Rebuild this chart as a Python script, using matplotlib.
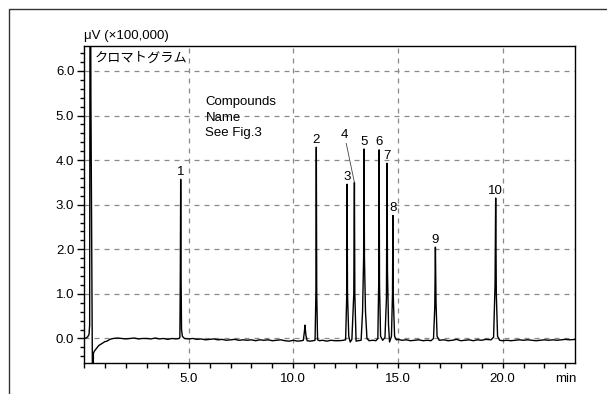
import matplotlib
matplotlib.use("Agg")
import matplotlib.pyplot as plt
from matplotlib.lines import Line2D
from matplotlib.ticker import MultipleLocator, FixedLocator

plt.rcParams['font.family'] = ['Liberation Sans', 'Noto Sans CJK JP', 'DejaVu Sans']
plt.rcParams['font.size'] = 9.5

# chromatogram trace (min, x100,000 uV)
solvent_t = [0.00, 0.10, 0.18, 0.24, 0.27, 0.29, 0.31, 0.33, 0.37, 0.41, 0.43, 0.45,
             0.50, 0.60, 0.70, 0.80, 0.90, 1.00, 1.10, 1.20, 1.30, 1.40]
solvent_y = [0.00, 0.01, 0.04, 0.09, 0.30, 9.00, 9.00, 5.40, 2.00, -1.50, -1.50, -0.33,
             -0.28, -0.22, -0.16, -0.13, -0.10, -0.07, -0.06, -0.03, -0.01, 0.00]

part1_t = [1.6, 1.8, 2.0, 2.2, 2.4, 2.6, 2.8, 3.0, 3.2, 3.4, 3.6, 3.8, 4.0, 4.2, 4.4, 4.54,
           4.58, 4.60, 4.62, 4.64, 4.66, 4.70, 4.80,
           5.0, 5.2, 5.4, 5.6, 5.8, 6.0, 6.2, 6.4, 6.6, 6.8, 7.0, 7.2, 7.4, 7.6, 7.8,
           8.0, 8.2, 8.4, 8.6, 8.8, 9.0, 9.2, 9.4, 9.6, 9.8, 10.0, 10.2, 10.4]
part1_y = [0.01, 0.00, -0.01, 0.00, 0.01, -0.01, 0.00, 0.00, -0.01, 0.01, -0.01, 0.00,
           -0.02, 0.00, -0.01, 0.00,
           0.02, 1.20, 3.57, 1.30, 0.20, 0.05, 0.00,
           -0.01, 0.00, -0.02, -0.01, -0.03, -0.02, -0.01, -0.03, -0.02, -0.04, -0.03,
           -0.02, -0.04, -0.03, -0.04, -0.03, -0.05, -0.03, -0.04, -0.03, -0.05, -0.04,
           -0.03, -0.05, -0.06, -0.04, -0.06, -0.05]

part2_t = [10.48, 10.53, 10.56, 10.60, 10.66, 10.8, 10.95,
           11.04, 11.08, 11.10, 11.12, 11.16, 11.25,
           11.4, 11.6, 11.8, 12.0, 12.2, 12.4,
           12.50, 12.55, 12.57, 12.59, 12.65, 12.72, 12.80, 12.89, 12.92, 12.94, 13.00, 13.1,
           13.24, 13.31, 13.36, 13.38, 13.40, 13.45, 13.52, 13.62, 13.8, 13.95,
           14.04, 14.08, 14.10, 14.12, 14.17, 14.27,
           14.38, 14.45, 14.48, 14.50, 14.55, 14.60,
           14.69, 14.74, 14.76, 14.78, 14.84, 14.92]
part2_y = [-0.04, 0.15, 0.30, 0.08, -0.05, -0.06, -0.05,
           -0.04, 1.00, 4.29, 1.00, -0.03, -0.05,
           -0.04, -0.06, -0.04, -0.05, -0.05, -0.04,
           -0.03, 0.90, 3.46, 1.00, 0.05, -0.08, -0.02, 1.00, 3.50, 1.00, -0.06, -0.05,
           -0.04, 0.60, 1.80, 4.25, 1.80, 0.60, 0.00, -0.05, -0.04, -0.05,
           0.00, 1.20, 4.23, 1.20, 0.05, -0.04,
           0.02, 0.90, 3.93, 1.50, 0.30, -0.08,
           0.05, 1.00, 2.76, 0.90, 0.05, -0.03]

part3_t = [15.0, 15.2, 15.4, 15.6, 15.8, 16.0, 16.2, 16.4, 16.58,
           16.70, 16.76, 16.79, 16.82, 16.87, 16.97,
           17.2, 17.4, 17.6, 17.8, 18.0, 18.2, 18.4, 18.6, 18.8, 19.0, 19.2, 19.45,
           19.57, 19.64, 19.67, 19.70, 19.76, 19.86,
           20.0, 20.2, 20.4, 20.6, 20.8, 21.0, 21.2, 21.4, 21.6, 21.8, 22.0, 22.2,
           22.4, 22.6, 22.8, 23.0, 23.2, 23.5]
part3_y = [-0.02, -0.04, -0.03, -0.05, -0.04, -0.03, -0.05, -0.04, -0.05,
           0.00, 0.70, 2.05, 0.80, 0.05, -0.04,
           -0.03, -0.05, -0.04, -0.02, -0.05, -0.04, -0.03, -0.05, -0.03, -0.04, -0.02, -0.03,
           0.03, 1.20, 3.15, 1.00, 0.05, -0.04,
           -0.05, -0.04, -0.05, -0.04, -0.03, -0.04, -0.03, -0.04, -0.05, -0.04, -0.03, -0.04,
           -0.03, -0.04, -0.03, -0.02, -0.03, -0.02]

# peak numbers
peak_label = ['1', '2', '3', '5', '6', '7', '8', '9', '10']
peak_rt = [4.62, 11.10, 12.57, 13.38, 14.10, 14.48, 14.76, 16.79, 19.67]
peak_top = [3.57, 4.29, 3.46, 4.25, 4.23, 3.93, 2.76, 2.05, 3.15]

x_ticks = [5, 10, 15, 20, 23]
x_tick_labels = ['5.0', '10.0', '15.0', '20.0', 'min']

time = solvent_t + part1_t + part2_t + part3_t
signal = solvent_y + part1_y + part2_y + part3_y

fig = plt.figure(figsize=(6.07, 3.94), dpi=100)
ax = fig.add_axes([84 / 607, 1 - 363 / 394, (575 - 84) / 607, (363 - 46) / 394])

ax.plot(time, signal, color='black', lw=1.0, zorder=3)

ax.set_xlim(0, 23.46)
ax.set_ylim(-0.55, 6.56)

ax.xaxis.set_major_locator(FixedLocator(x_ticks))
ax.xaxis.set_minor_locator(MultipleLocator(1.0))
ax.set_xticklabels(x_tick_labels)
ax.yaxis.set_major_locator(MultipleLocator(1.0))
ax.yaxis.set_minor_locator(MultipleLocator(0.2))
ax.yaxis.set_major_formatter(plt.FuncFormatter(lambda v, p: f'{v:.1f}'))
ax.tick_params(axis='x', which='both', direction='out', length=3.5, width=1, pad=4)
ax.tick_params(axis='y', which='major', direction='out', length=5, width=1, pad=2)
ax.tick_params(axis='y', which='minor', direction='out', length=3, width=1)
for s in ax.spines.values():
    s.set_linewidth(1.0)

ax.grid(True, which='major', color='#8a8a8a', ls=(0, (4, 4)), lw=0.9)
# no grid line through the 'min' position
ax.get_xgridlines()[-1].set_visible(False)

for lab, rt, h in zip(peak_label, peak_rt, peak_top):
    ax.annotate(lab, (rt, h), xytext=(0, 1), textcoords='offset points',
                ha='center', va='bottom')
# peak 4 with leader line
ax.annotate('4', xy=(12.92, 3.50), xytext=(12.44, 4.44), ha='center', va='bottom',
            arrowprops=dict(arrowstyle='-', color='#444444', lw=0.6, shrinkA=0, shrinkB=0))

ax.text(0.5, 6.41, 'クロマトグラム', ha='left', va='top')
ax.text(5.8, 5.43, 'Compounds\nName\nSee Fig.3', ha='left', va='top', linespacing=1.35)
fig.text(84 / 607, 1 - 36 / 394, 'μV (×100,000)', ha='left', va='center')

# outer frame
fig.add_artist(Line2D([9 / 607, 9 / 607, 1.0], [0.0, 1 - 9 / 394, 1 - 9 / 394],
                      transform=fig.transFigure, color='#333333', lw=1.0))

fig.savefig('out.png', dpi=100)
